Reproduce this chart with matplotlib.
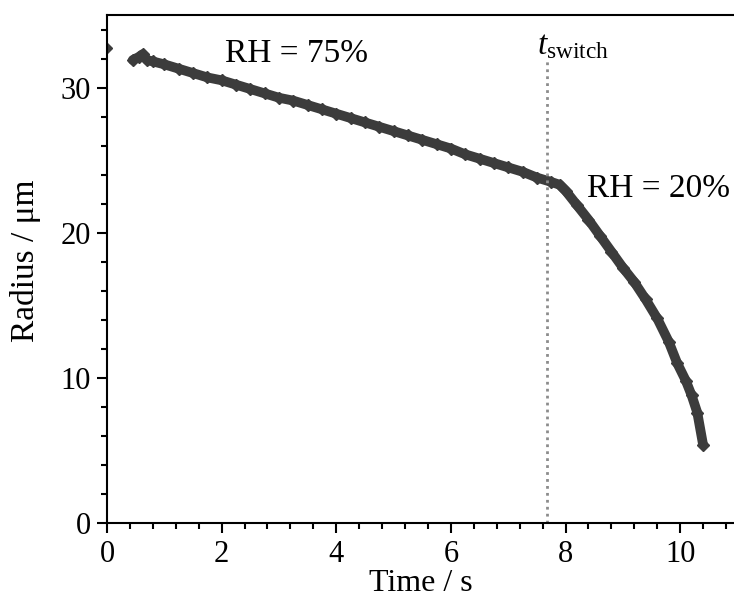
import numpy as np
import matplotlib
matplotlib.use('Agg')
import matplotlib.pyplot as plt
from matplotlib.ticker import MultipleLocator

plt.rcParams['font.family'] = ['Liberation Serif', 'DejaVu Serif']
plt.rcParams['mathtext.fontset'] = 'custom'
plt.rcParams['mathtext.rm'] = 'Liberation Serif'
plt.rcParams['mathtext.it'] = 'Liberation Serif:italic'

# droplet radius vs time
t = [0.00, 0.45, 0.55, 0.62, 0.70, 0.80, 1.00, 1.25, 1.50, 1.75,
     2.00, 2.25, 2.50, 2.75, 3.00, 3.25, 3.50, 3.75, 4.00, 4.25,
     4.50, 4.75, 5.00, 5.25, 5.50, 5.75, 6.00, 6.25, 6.50, 6.75,
     7.00, 7.25, 7.50, 7.75, 7.90, 8.00, 8.20, 8.40, 8.60, 8.80,
     9.00, 9.20, 9.40, 9.60, 9.80, 9.95, 10.10, 10.20, 10.30, 10.40]
r = [32.7, 31.9, 32.1, 32.3, 31.9, 31.8, 31.6, 31.3, 31.0, 30.7,
     30.5, 30.2, 29.9, 29.6, 29.3, 29.1, 28.8, 28.5, 28.2, 27.9,
     27.6, 27.3, 27.0, 26.7, 26.4, 26.1, 25.8, 25.4, 25.1, 24.8,
     24.5, 24.2, 23.8, 23.5, 23.3, 22.9, 21.9, 20.9, 19.8, 18.7,
     17.6, 16.6, 15.4, 14.1, 12.5, 11.0, 9.8, 8.8, 7.6, 5.4]
t_switch = 7.68

fig = plt.figure(figsize=(7.34, 6.04), dpi=100)
ax = fig.add_axes([107/734, 81/604, 1 - 107/734, 508/604])

col = '#3c3c3c'
ax.plot(t[:1], r[:1], 'D', color=col, ms=5)
ax.plot(t[1:], r[1:], '-', color=col, lw=7, solid_capstyle='round')
ax.plot(t[1:], r[1:], 'D', color=col, ms=6)

ax.plot([t_switch, t_switch], [0, 31.9], color='#8c8c8c', lw=2,
        linestyle=(0, (1, 1.5)))

ax.text(3.3, 32.3, 'RH = 75%', fontsize=24, ha='center', va='center')
ax.text(9.63, 23.0, 'RH = 20%', fontsize=24, ha='center', va='center')
ax.text(7.5, 31.8, r'$t_{\rm switch}$', fontsize=24, ha='left', va='bottom')

ax.set_xlim(0, 10.94)
ax.set_ylim(0, 35)
ax.xaxis.set_major_locator(MultipleLocator(2))
ax.xaxis.set_minor_locator(MultipleLocator(0.4))
ax.yaxis.set_major_locator(MultipleLocator(10))
ax.yaxis.set_minor_locator(MultipleLocator(2))
ax.tick_params(which='major', direction='out', length=7.5, width=1.5, labelsize=22)
ax.tick_params(axis='x', which='major', pad=5)
ax.tick_params(axis='y', which='major', pad=4)
ax.tick_params(which='minor', direction='out', length=4, width=1.5)
ax.spines['right'].set_visible(False)
for s in ['left', 'bottom', 'top']:
    ax.spines[s].set_linewidth(1.5)

ax.set_xlabel('Time / s', fontsize=23, labelpad=0)
ax.set_ylabel('Radius / μm', fontsize=24)
ax.yaxis.set_label_coords(-0.106, 0.516)

fig.savefig('out.png', dpi=100)
